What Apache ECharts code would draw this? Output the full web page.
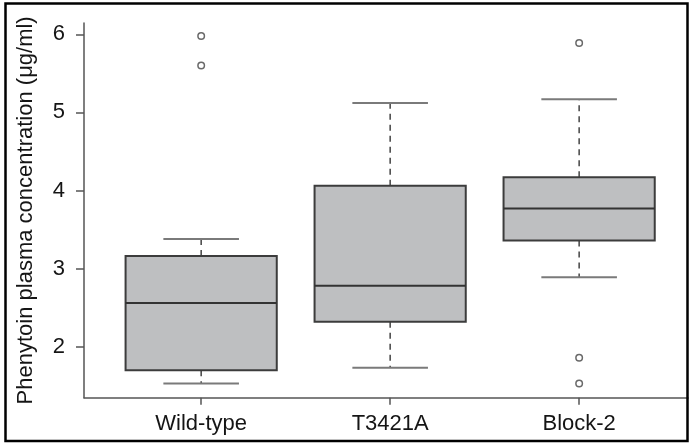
<!DOCTYPE html>
<html>
<head>
<meta charset="utf-8">
<style>
  html, body { margin: 0; padding: 0; background: #ffffff; }
  #chart { width: 690px; height: 445px; }
</style>
<script src="https://cdn.jsdelivr.net/npm/echarts@6/dist/echarts.min.js"></script>
</head>
<body>
<div id="chart"></div>
<script>
// Genotype groups and their box statistics (µg/ml)
const categories = ['Wild-type', 'T3421A', 'Block-2'];
const lowerWhisker = [1.53, 1.73, 2.89];
const q1 = [1.70, 2.32, 3.36];
const median = [2.56, 2.78, 3.77];
const q3 = [3.16, 4.06, 4.17];
const upperWhisker = [3.38, 5.12, 5.17];

// Outlying observations: group index and value
const outlierGroup = [0, 0, 2, 2, 2];
const outlierValue = [5.98, 5.60, 5.89, 1.86, 1.53];

const yTicks = [2, 3, 4, 5, 6];
const xTicks = [1, 2, 3];

const FONT = '"Liberation Sans", Arial, Helvetica, sans-serif';
const TEXT = '#151515';
const AXIS = '#555555';

const boxData = categories.map((c, i) => [i + 1, lowerWhisker[i], q1[i], median[i], q3[i], upperWhisker[i]]);
const outlierData = outlierGroup.map((g, i) => [g + 1, outlierValue[i]]);

function renderBox(params, api) {
  const x = api.value(0);
  const pMin = api.coord([x, api.value(1)]);
  const pQ1 = api.coord([x, api.value(2)]);
  const pMed = api.coord([x, api.value(3)]);
  const pQ3 = api.coord([x, api.value(4)]);
  const pMax = api.coord([x, api.value(5)]);
  const halfBox = api.size([0.8, 0])[0] / 2;
  const halfCap = halfBox / 2;
  const cx = pMed[0];
  const dash = { stroke: '#444444', lineWidth: 1.5, lineDash: [6, 5] };
  const cap = { stroke: '#7a7a7a', lineWidth: 2 };
  return {
    type: 'group',
    children: [
      { type: 'line', shape: { x1: cx, y1: pQ3[1], x2: cx, y2: pMax[1] }, style: dash },
      { type: 'line', shape: { x1: cx, y1: pQ1[1], x2: cx, y2: pMin[1] }, style: dash },
      { type: 'line', shape: { x1: cx - halfCap, y1: pMax[1], x2: cx + halfCap, y2: pMax[1] }, style: cap },
      { type: 'line', shape: { x1: cx - halfCap, y1: pMin[1], x2: cx + halfCap, y2: pMin[1] }, style: cap },
      {
        type: 'rect',
        shape: { x: cx - halfBox, y: pQ3[1], width: halfBox * 2, height: pQ1[1] - pQ3[1] },
        style: { fill: '#bebfc1', stroke: '#3c3c3c', lineWidth: 2 }
      },
      { type: 'line', shape: { x1: cx - halfBox, y1: pMed[1], x2: cx + halfBox, y2: pMed[1] }, style: { stroke: '#333333', lineWidth: 2 } }
    ]
  };
}

const chart = echarts.init(document.getElementById('chart'), null, { renderer: 'canvas' });
chart.setOption({
  animation: false,
  backgroundColor: '#ffffff',
  grid: { left: 84, right: 2, top: 23, bottom: 47.3, containLabel: false },
  xAxis: {
    type: 'value',
    min: 0.38,
    max: 3.576,
    axisLine: { show: true, lineStyle: { color: AXIS, width: 1.5 } },
    axisTick: { show: true, customValues: xTicks, length: 7, lineStyle: { color: AXIS, width: 1.5 } },
    axisLabel: {
      customValues: xTicks,
      formatter: v => categories[Math.round(v) - 1] || '',
      color: TEXT, fontFamily: FONT, fontSize: 22, margin: 15
    },
    splitLine: { show: false }
  },
  yAxis: {
    type: 'value',
    min: 1.347,
    max: 6.145,
    name: 'Phenytoin plasma concentration (μg/ml)',
    nameLocation: 'middle',
    nameGap: 47,
    nameRotate: 90,
    nameTextStyle: { color: TEXT, fontFamily: FONT, fontSize: 22 },
    axisLine: { show: true, lineStyle: { color: AXIS, width: 1.5 } },
    axisTick: { show: true, customValues: yTicks, length: 8, lineStyle: { color: AXIS, width: 1.5 } },
    axisLabel: {
      customValues: yTicks,
      color: TEXT, fontFamily: FONT, fontSize: 22, margin: 19
    },
    splitLine: { show: false }
  },
  series: [
    {
      type: 'custom',
      data: boxData,
      renderItem: renderBox,
      encode: { x: 0, y: [1, 2, 3, 4, 5] },
      clip: false,
      z: 2
    },
    {
      type: 'scatter',
      data: outlierData,
      symbol: 'circle',
      symbolSize: 6.5,
      itemStyle: { color: '#ffffff', borderColor: '#444444', borderWidth: 1.5 },
      z: 3
    }
  ],
  graphic: [
    {
      type: 'rect',
      z: 100,
      shape: { x: 5.5, y: 3.5, width: 682, height: 437.5 },
      style: { fill: null, stroke: '#000000', lineWidth: 2.5 }
    }
  ]
});
</script>
</body>
</html>
